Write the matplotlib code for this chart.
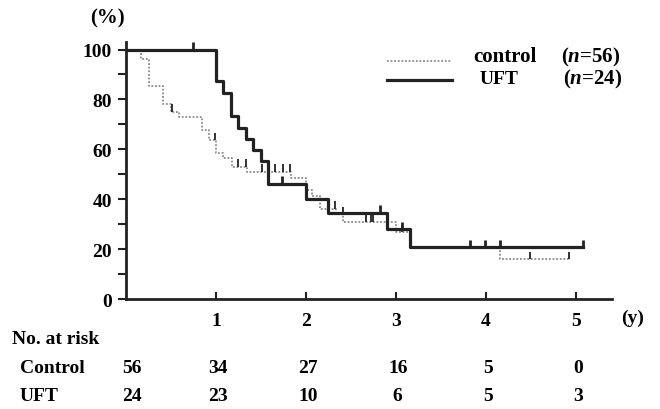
import numpy as np
import matplotlib
matplotlib.use("Agg")
import matplotlib.pyplot as plt
from matplotlib.lines import Line2D
from matplotlib.transforms import blended_transform_factory

plt.rcParams['font.family'] = ['Liberation Serif', 'DejaVu Serif']
plt.rcParams['font.weight'] = 'bold'
plt.rcParams['mathtext.fontset'] = 'custom'
plt.rcParams['mathtext.it'] = 'Liberation Serif:italic:bold'
plt.rcParams['mathtext.rm'] = 'Liberation Serif:bold'

# Kaplan-Meier curves (years, %)
ctrl_t = [0, 0.167, 0.256, 0.415, 0.497, 0.589, 0.841, 0.926, 1.0, 1.081, 1.174,
          1.34, 1.833, 2.0, 2.07, 2.16, 2.33, 2.415, 3.0, 3.16, 4.16, 4.92]
ctrl_s = [100, 96.3, 85.4, 78.3, 75.0, 73.0, 67.6, 63.6, 58.7, 56.6, 53.0,
          51.0, 48.7, 43.6, 41.2, 36.3, 34.0, 31.0, 26.7, 21.0, 15.9, 15.9]
ctrl_cens = [0.508, 0.99, 1.248, 1.33, 1.507, 1.656, 1.748, 1.825, 2.32, 2.41,
             2.667, 2.72, 2.75, 3.07, 4.49, 4.92]

uft_t = [0, 1.0, 1.081, 1.163, 1.248, 1.33, 1.415, 1.5, 1.581, 2.0, 2.248, 2.9, 3.16, 5.08]
uft_s = [100, 87.4, 82.6, 73.4, 68.7, 64.3, 59.6, 55.2, 46.3, 40.0, 34.6, 27.9, 20.7, 20.7]
uft_cens = [0.748, 1.73, 2.82, 3.07, 3.82, 3.99, 4.16, 5.08]

risk_times = [0, 1, 2, 3, 4, 5]
risk_ctrl = [56, 34, 27, 16, 5, 0]
risk_uft = [24, 23, 10, 6, 5, 3]


def surv_at(t, times, surv):
    i = np.searchsorted(times, t, side='right') - 1
    return surv[max(i, 0)]


fig = plt.figure(figsize=(6.6, 4.1), dpi=100)
ax = fig.add_axes([0.191, 0.268, 0.736, 0.627])

dark = '#222222'
grey = '#8a8a8a'

ax.step(ctrl_t, ctrl_s, where='post', color=grey, lw=1.3, ls=(0, (1, 1)))
ax.step(uft_t, uft_s, where='post', color=dark, lw=2.3)

for t in ctrl_cens:
    y = surv_at(t, ctrl_t, ctrl_s)
    ax.vlines(t, y, y + 3, color=dark, lw=1.3)
for t in uft_cens:
    y = surv_at(t, uft_t, uft_s)
    ax.vlines(t, y, y + 3, color=dark, lw=2.0)

ax.set_xlim(0, 5.4)
ax.set_ylim(0, 103)
for s in ['top', 'right']:
    ax.spines[s].set_visible(False)
for s in ['left', 'bottom']:
    ax.spines[s].set_linewidth(2.0)
    ax.spines[s].set_color(dark)

ax.set_yticks([0, 20, 40, 60, 80, 100])
ax.set_yticks([10, 30, 50, 70, 90], minor=True)
ax.tick_params(axis='y', which='both', direction='out', length=6, width=1.5,
               color=dark, labelsize=14, pad=4)
ax.set_xticks([1, 2, 3, 4, 5])
ax.tick_params(axis='x', direction='in', length=5, width=1.5, color=dark,
               labelsize=14, pad=9)

fig.text(0.137, 0.955, '(%)', fontsize=15, ha='left', va='center')
fig.text(0.958, 0.224, '(y)', fontsize=14, ha='center', va='center')

# legend
fig.add_artist(Line2D([0.586, 0.685], [0.849, 0.849], color=grey, lw=1.3, ls=(0, (1, 1))))
fig.add_artist(Line2D([0.586, 0.685], [0.803, 0.803], color=dark, lw=2.3))
fig.text(0.717, 0.860, 'control', fontsize=15, ha='left', va='center')
fig.text(0.850, 0.860, '($n$=56)', fontsize=15, ha='left', va='center')
fig.text(0.727, 0.805, 'UFT', fontsize=14, ha='left', va='center')
fig.text(0.853, 0.805, '($n$=24)', fontsize=15, ha='left', va='center')

# number at risk table
fig.text(0.018, 0.172, 'No. at risk', fontsize=14, ha='left', va='center')
fig.text(0.030, 0.102, 'Control', fontsize=14, ha='left', va='center')
fig.text(0.030, 0.032, 'UFT', fontsize=14, ha='left', va='center')
trans = blended_transform_factory(ax.transData, fig.transFigure)
for t, c, u in zip(risk_times, risk_ctrl, risk_uft):
    xt = t + 0.07 if t == 0 else t + 0.02
    ax.text(xt, 0.102, str(c), transform=trans, fontsize=14, ha='center',
            va='center', clip_on=False)
    ax.text(xt, 0.032, str(u), transform=trans, fontsize=14, ha='center',
            va='center', clip_on=False)

fig.savefig('out.png', dpi=100)
